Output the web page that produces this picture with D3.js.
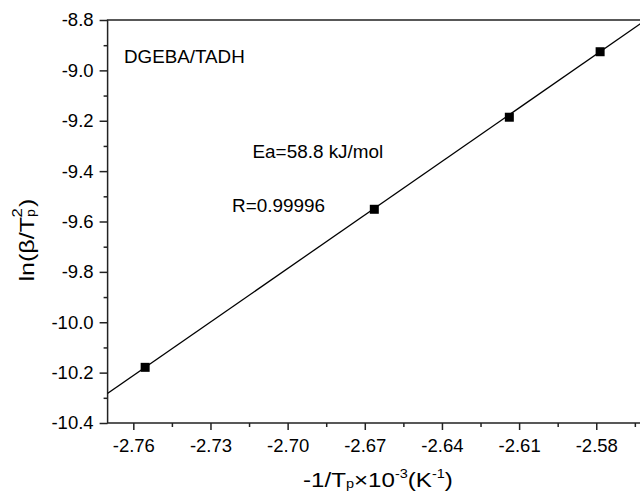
<!DOCTYPE html>
<html>
<head>
<meta charset="utf-8">
<script src="https://cdn.jsdelivr.net/npm/d3@7/dist/d3.min.js"></script>
<style>
  html, body { margin: 0; padding: 0; background: #fff; }
  svg { display: block; font-family: "Liberation Sans", Arial, sans-serif; }
</style>
</head>
<body>
<div id="chart"></div>
<script>
// ---- data ----
const pointsX = [-2.7554, -2.6663, -2.6138, -2.5785];
const pointsY = [-10.179, -9.5515, -9.186, -8.926];
const fitX = [-2.7702, -2.5600];
const fitY = [-10.284, -8.795];
const xTicks = [-2.76, -2.73, -2.70, -2.67, -2.64, -2.61, -2.58];
const xMinorTicks = [-2.745, -2.715, -2.685, -2.655, -2.625, -2.595, -2.565];
const yTicks = [-10.4, -10.2, -10.0, -9.8, -9.6, -9.4, -9.2, -9.0, -8.8];
const yMinorTicks = [-10.3, -10.1, -9.9, -9.7, -9.5, -9.3, -9.1, -8.9];
const annotations = ["DGEBA/TADH", "Ea=58.8 kJ/mol", "R=0.99996"];

// ---- layout ----
const W = 640, H = 496;
const mLeft = 107.6, mTop = 20, mBottom = 423, mRight = 647.7;

const svg = d3.select("#chart").append("svg").attr("width", W).attr("height", H);

const x = d3.scaleLinear().domain([-2.77, -2.56]).range([mLeft, mRight]);
const y = d3.scaleLinear().domain([-10.4, -8.8]).range([mBottom, mTop]);

svg.append("defs").append("clipPath").attr("id", "clip")
  .append("rect").attr("x", mLeft).attr("y", mTop).attr("width", mRight - mLeft).attr("height", mBottom - mTop);

const axisColor = "#222";
const fontSize = 18.5;
const FF = "'Liberation Sans', Arial, sans-serif";

// x axis
const gx = svg.append("g").attr("transform", `translate(0,${mBottom})`);
gx.call(d3.axisBottom(x).tickValues(xTicks).tickSize(7).tickSizeOuter(0).tickPadding(9)
  .tickFormat(d => d.toFixed(2)));
gx.append("g").call(d3.axisBottom(x).tickValues(xMinorTicks).tickSize(4).tickSizeOuter(0).tickFormat(""));
gx.selectAll(".domain").remove();
gx.selectAll("line").attr("stroke", axisColor).attr("stroke-width", 1.5);
gx.selectAll("text").attr("font-size", fontSize).attr("fill", "#000").attr("font-family", FF);

// y axis
const gy = svg.append("g").attr("transform", `translate(${mLeft},0)`);
gy.call(d3.axisLeft(y).tickValues(yTicks).tickSize(8).tickSizeOuter(0).tickPadding(6)
  .tickFormat(d => d.toFixed(1)));
gy.append("g").call(d3.axisLeft(y).tickValues(yMinorTicks).tickSize(4).tickSizeOuter(0).tickFormat(""));
gy.selectAll(".domain").remove();
gy.selectAll("line").attr("stroke", axisColor).attr("stroke-width", 1.5);
gy.selectAll("text").attr("font-size", fontSize).attr("fill", "#000").attr("font-family", FF);

// frame
svg.append("path")
  .attr("d", `M${mRight},${mTop}H${mLeft}V${mBottom}H${mRight}`)
  .attr("fill", "none").attr("stroke", axisColor).attr("stroke-width", 1.5);

// fit line
const plot = svg.append("g").attr("clip-path", "url(#clip)");
plot.append("path")
  .datum(fitX.map((v, i) => [v, fitY[i]]))
  .attr("d", d3.line().x(d => x(d[0])).y(d => y(d[1])))
  .attr("fill", "none").attr("stroke", "#000").attr("stroke-width", 1.3);

// points
const sq = 9;
plot.selectAll("rect.pt").data(pointsX.map((v, i) => [v, pointsY[i]]))
  .enter().append("rect").attr("class", "pt")
  .attr("x", d => x(d[0]) - sq / 2).attr("y", d => y(d[1]) - sq / 2)
  .attr("width", sq).attr("height", sq).attr("fill", "#000");

// annotations
svg.append("text").attr("x", 124).attr("y", 63).attr("font-size", 18.8).text(annotations[0]);
svg.append("text").attr("x", 252.5).attr("y", 158).attr("font-size", 18.9).text(annotations[1]);
svg.append("text").attr("x", 232).attr("y", 212).attr("font-size", 18.9).text(annotations[2]);

// y axis label
const ylg = svg.append("g");
const yl = ylg.append("text").attr("font-size", 21);
yl.append("tspan").text("ln(β/T");
yl.append("tspan").attr("font-size", 12).attr("dy", 1).text("p");
yl.append("tspan").attr("font-size", 14).attr("dx", -7).attr("dy", -13).text("2");
yl.append("tspan").attr("dx", 1).attr("dy", 12).text(")");
{
  const w = yl.node().getBBox().width;
  const sx = 83 / w;
  ylg.attr("transform", `translate(34,240) rotate(-90) scale(${sx},1) translate(${-w / 2},0)`);
}

// x axis label
const xlg = svg.append("g");
const xl = xlg.append("text").attr("font-size", 20);
xl.append("tspan").text("-1/T");
xl.append("tspan").attr("font-size", 12).attr("dy", 1).text("p");
xl.append("tspan").attr("dy", -1).text("×10");
xl.append("tspan").attr("font-size", 12).attr("dy", -9).text("-3");
xl.append("tspan").attr("dy", 9).text("(K");
xl.append("tspan").attr("font-size", 12).attr("dy", -9).text("-1");
xl.append("tspan").attr("dy", 9).text(")");
{
  const w = xl.node().getBBox().width;
  const sx = 150 / w;
  xlg.attr("transform", `translate(303,487) scale(${sx},1)`);
}
</script>
</body>
</html>
